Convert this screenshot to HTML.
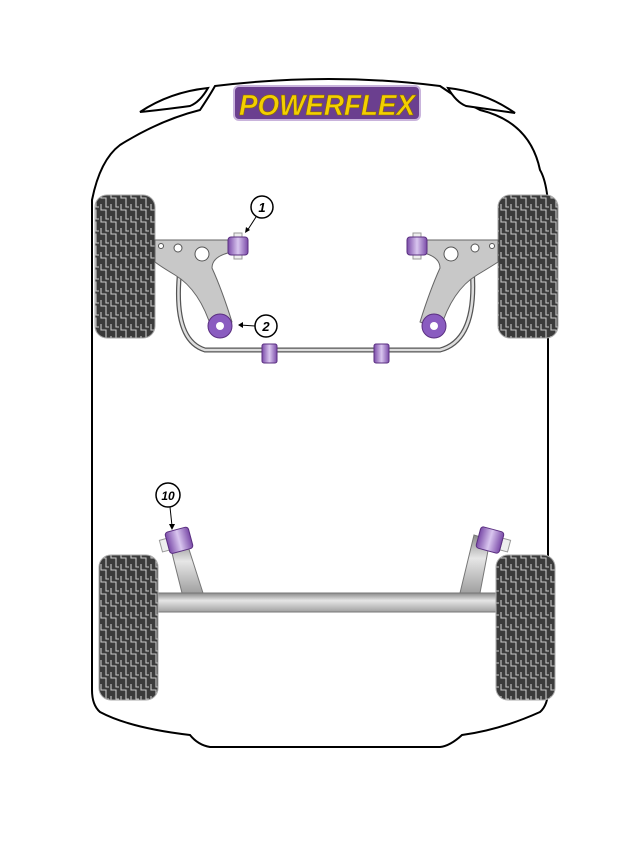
<!DOCTYPE html>
<html><head><meta charset="utf-8"><style>html,body{margin:0;padding:0;background:#fff}svg{display:block}</style></head>
<body>
<svg width="632" height="867" viewBox="0 0 632 867" xmlns="http://www.w3.org/2000/svg">
<defs>
<pattern id="tread" width="10" height="12" patternUnits="userSpaceOnUse">
<rect width="10" height="12" fill="#3b3b3b"/>
<path d="M1 0 V6 H6 V12 M6 0 V3 H9" stroke="#c8c8c8" stroke-width="1.1" fill="none"/>
</pattern>
<linearGradient id="bar" x1="0" y1="0" x2="0" y2="1"><stop offset="0" stop-color="#8a8a8a"/><stop offset="0.4" stop-color="#e6e6e6"/><stop offset="1" stop-color="#a0a0a0"/></linearGradient>
<linearGradient id="pur" x1="0" y1="0" x2="1" y2="0"><stop offset="0" stop-color="#7a4aa8"/><stop offset="0.5" stop-color="#d9c6ef"/><stop offset="1" stop-color="#7a4aa8"/></linearGradient>
</defs>
<!-- body -->
<path d="M215 86 Q330 72 440 86 Q460 100 480 110 Q530 122 540 170 Q552 190 548 260 L548 690 Q548 705 540 712 Q500 730 462 735 Q450 746 440 747 L210 747 Q198 745 190 735 Q130 728 100 712 Q92 705 92 690 L92 200 Q100 160 120 145 Q160 120 200 110 Q210 95 215 86 Z" fill="#fff" stroke="#000" stroke-width="2"/>
<path d="M140 112 Q170 92 208 88 Q200 102 190 106 Q160 110 140 112 Z" fill="#fff" stroke="#000" stroke-width="2"/>
<path d="M515 113 Q485 92 448 88 Q456 102 466 106 Q494 110 515 113 Z" fill="#fff" stroke="#000" stroke-width="2"/>
<!-- logo -->
<rect x="234" y="86" width="186" height="34" rx="5" fill="#6b3f8f" stroke="#c9b4dc" stroke-width="2"/>
<text x="327" y="115" text-anchor="middle" font-family="Liberation Sans, sans-serif" font-weight="bold" font-style="italic" font-size="29" fill="#f3cf00" stroke="#8a6a00" stroke-width="0.6" textLength="176" lengthAdjust="spacingAndGlyphs">POWERFLEX</text>
<!-- front wheels -->
<rect x="95" y="195" width="60" height="143" rx="12" fill="url(#tread)" stroke="#aaa"/>
<rect x="498" y="195" width="60" height="143" rx="12" fill="url(#tread)" stroke="#aaa"/>
<!-- anti roll bar -->
<path d="M180 268 Q172 340 205 350 L440 350 Q478 340 472 268" fill="none" stroke="#555" stroke-width="5"/>
<path d="M180 268 Q172 340 205 350 L440 350 Q478 340 472 268" fill="none" stroke="#ddd" stroke-width="2.5"/>
<!-- front arms -->
<path d="M155 240 L232 240 L232 252 Q212 256 212 268 Q222 290 232 322 L212 330 Q200 290 175 275 Q160 266 155 262 Z" fill="#c8c8c8" stroke="#666" stroke-width="1"/>
<circle cx="161" cy="246" r="2.5" fill="#fff" stroke="#555"/><circle cx="178" cy="248" r="4" fill="#fff" stroke="#555"/><circle cx="202" cy="254" r="7" fill="#fff" stroke="#555"/>
<path d="M498 240 L420 240 L420 252 Q440 256 440 268 Q430 290 420 322 L440 330 Q452 290 477 275 Q492 266 498 262 Z" fill="#c8c8c8" stroke="#666" stroke-width="1"/>
<circle cx="492" cy="246" r="2.5" fill="#fff" stroke="#555"/><circle cx="475" cy="248" r="4" fill="#fff" stroke="#555"/><circle cx="451" cy="254" r="7" fill="#fff" stroke="#555"/>
<!-- bushing 1 -->
<rect x="234" y="233" width="8" height="26" fill="#eee" stroke="#999"/>
<rect x="228" y="237" width="20" height="18" rx="3" fill="url(#pur)" stroke="#5a2f80"/>
<rect x="413" y="233" width="8" height="26" fill="#eee" stroke="#999"/>
<rect x="407" y="237" width="20" height="18" rx="3" fill="url(#pur)" stroke="#5a2f80"/>
<!-- bushing 2 -->
<circle cx="220" cy="326" r="12" fill="#8a5cc0" stroke="#5a2f80"/><circle cx="220" cy="326" r="4" fill="#fff"/>
<circle cx="434" cy="326" r="12" fill="#8a5cc0" stroke="#5a2f80"/><circle cx="434" cy="326" r="4" fill="#fff"/>
<!-- bar bushings -->
<rect x="262" y="344" width="15" height="19" rx="2" fill="url(#pur)" stroke="#5a2f80"/>
<rect x="374" y="344" width="15" height="19" rx="2" fill="url(#pur)" stroke="#5a2f80"/>
<!-- callouts -->
<g font-family="Liberation Sans, sans-serif" font-weight="bold" font-style="italic" fill="#000" text-anchor="middle">
<circle cx="262" cy="207" r="11" fill="#fff" stroke="#000" stroke-width="1.5"/><text x="262" y="212" font-size="13">1</text>
<line x1="256" y1="217" x2="247" y2="231" stroke="#000"/><path d="M245 233 l1 -6 l4 3 z" fill="#000"/>
<circle cx="266" cy="326" r="11" fill="#fff" stroke="#000" stroke-width="1.5"/><text x="266" y="331" font-size="13">2</text>
<line x1="255" y1="326" x2="240" y2="325" stroke="#000"/><path d="M238 325 l5 -3 l0 6 z" fill="#000"/>
<circle cx="168" cy="495" r="12" fill="#fff" stroke="#000" stroke-width="1.5"/><text x="168" y="500" font-size="12">10</text>
<line x1="170" y1="507" x2="172" y2="526" stroke="#000"/><path d="M172 530 l-3 -6 l6 0 z" fill="#000"/>
</g>
<!-- rear -->
<path d="M170 545 L186 540 L203 593 L182 593 Z" fill="url(#bar)" stroke="#777"/>
<path d="M490 540 L474 535 L460 593 L480 593 Z" fill="url(#bar)" stroke="#777"/>
<rect x="155" y="593" width="345" height="19" fill="url(#bar)" stroke="#777"/>
<rect x="99" y="555" width="59" height="145" rx="12" fill="url(#tread)" stroke="#aaa"/>
<rect x="496" y="555" width="59" height="145" rx="12" fill="url(#tread)" stroke="#aaa"/>
<g transform="rotate(-15 180 540)"><rect x="160" y="535" width="8" height="12" fill="#eee" stroke="#999"/><rect x="167" y="529" width="24" height="22" rx="3" fill="url(#pur)" stroke="#5a2f80"/></g>
<g transform="rotate(15 490 540)"><rect x="502" y="535" width="8" height="12" fill="#eee" stroke="#999"/><rect x="478" y="529" width="24" height="22" rx="3" fill="url(#pur)" stroke="#5a2f80"/></g>
</svg>
</body></html>
